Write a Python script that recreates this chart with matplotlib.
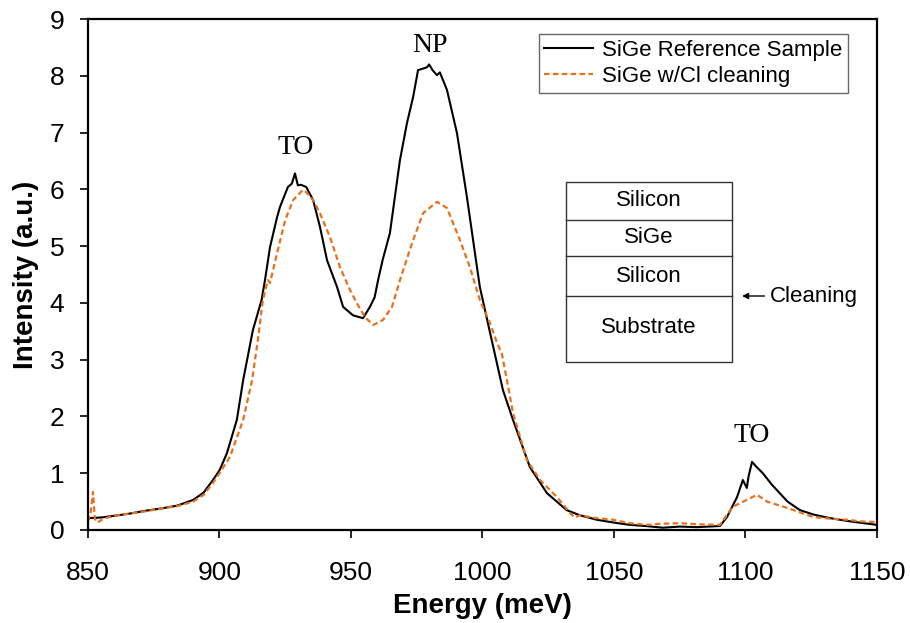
import matplotlib
matplotlib.use("Agg")
import matplotlib.pyplot as plt
from matplotlib.patches import Rectangle

# photoluminescence spectra, energy in meV, intensity in a.u.
ref_energy = [850, 851, 855, 860, 866, 872, 878, 884, 890, 894, 897.5, 900,
              902.8, 906.6, 909, 912.7, 916, 917.3, 919.2, 921.9, 923, 926,
              927.5, 928.7, 929.8, 931, 933, 935.6, 938.2, 940.9, 944.7, 947,
              950.8, 954.6, 957.2, 959, 960.3, 962, 964.8, 968.6, 971.3, 973.6,
              975.5, 977, 978.9, 979.7, 981, 982.7, 983.8, 986.5, 990.3, 994.1,
              997.9, 999, 1002.9, 1007.8, 1011.6, 1018, 1024.5, 1032, 1037,
              1043.5, 1050, 1056, 1062, 1068.6, 1075, 1081.6, 1090.3, 1093,
              1096.8, 1099, 1100.5, 1101.2, 1102.5, 1104, 1106.6, 1110, 1113,
              1116, 1120.7, 1126, 1132, 1140, 1150]
ref_intensity = [0.2, 0.21, 0.22, 0.25, 0.29, 0.34, 0.38, 0.43, 0.53, 0.66,
                 0.88, 1.05, 1.35, 1.94, 2.64, 3.52, 4.05, 4.4, 4.98, 5.51,
                 5.69, 6.04, 6.1, 6.28, 6.07, 6.08, 6.04, 5.81, 5.34, 4.75,
                 4.28, 3.93, 3.78, 3.73, 3.93, 4.1, 4.4, 4.75, 5.23, 6.51, 7.17,
                 7.62, 8.1, 8.12, 8.15, 8.2, 8.1, 8.01, 8.06, 7.75, 6.99, 5.86,
                 4.63, 4.28, 3.47, 2.46, 1.94, 1.11, 0.65, 0.35, 0.26, 0.18,
                 0.13, 0.09, 0.07, 0.04, 0.06, 0.05, 0.07, 0.23, 0.58, 0.88,
                 0.74, 0.95, 1.2, 1.12, 1.0, 0.8, 0.65, 0.5, 0.35, 0.27, 0.21,
                 0.15, 0.09]

cl_energy = [850, 851, 851.9, 852.6, 853.5, 856, 860, 866, 872, 878, 884,
             890, 894, 897.5, 900, 904, 909, 912.4, 914.6, 916.5, 918.4,
             919.2, 921.9, 925, 928, 931.7, 933, 935.6, 938.2, 942, 945.8,
             949.6, 952.3, 955.3, 958.4, 962.2, 965.6, 968.6, 973.2, 977.4,
             982.7, 986.5, 991.4, 995.2, 999, 1002.9, 1005.5, 1007.4, 1008.2,
             1009.3, 1011.6, 1016.9, 1021.9, 1028.3, 1033.3, 1035, 1037,
             1043, 1049.6, 1056, 1062.5, 1068, 1075, 1082, 1090.3, 1095.2,
             1100.5, 1104.4, 1108.2, 1115.8, 1125.7, 1132, 1138.6, 1144, 1150]
cl_intensity = [0.15, 0.3, 0.67, 0.2, 0.13, 0.2, 0.25, 0.29, 0.33, 0.38, 0.42,
                0.5, 0.62, 0.83, 1.0, 1.29, 1.94, 2.64, 3.35, 4.05, 4.4, 4.35,
                4.88, 5.46, 5.81, 5.99, 5.95, 5.81, 5.58, 5.16, 4.63, 4.23,
                3.99, 3.75, 3.61, 3.7, 3.93, 4.4, 5.05, 5.58, 5.78, 5.67, 5.11,
                4.63, 4.05, 3.64, 3.3, 3.1, 2.9, 2.64, 2.06, 1.23, 0.88, 0.58,
                0.3, 0.22, 0.26, 0.21, 0.18, 0.12, 0.09, 0.11, 0.12, 0.1, 0.09,
                0.41, 0.53, 0.62, 0.5, 0.39, 0.23, 0.2, 0.18, 0.15, 0.14]

series_labels = ["SiGe Reference Sample", "SiGe w/Cl cleaning"]
peak_labels = ["TO", "NP", "TO"]
peak_pos = [(929, 6.74), (980, 8.54), (1102.5, 1.67)]
layers = ["Silicon", "SiGe", "Silicon", "Substrate"]

orange = "#E8701A"

plt.rcParams["font.family"] = ["Liberation Sans", "DejaVu Sans"]

fig = plt.figure(figsize=(9.1, 6.23), dpi=100)
ax = fig.add_axes([0.0967, 0.1493, 0.867, 0.8202])

ax.plot(ref_energy, ref_intensity, color="black", lw=1.5, label=series_labels[0])
ax.plot(cl_energy, cl_intensity, color=orange, lw=1.6, linestyle=(0, (2.5, 1.5)),
        label=series_labels[1])

ax.set_xlim(850, 1150)
ax.set_ylim(0, 9)
ax.set_xticks(range(850, 1151, 50))
ax.set_yticks(range(0, 10))
ax.tick_params(labelsize=19, length=6, width=1.2, direction="out")
ax.tick_params(axis="x", pad=16)
ax.tick_params(axis="y", pad=11)
for sp in ax.spines.values():
    sp.set_linewidth(1.6)

ax.set_xlabel("Energy (meV)", fontsize=20, fontweight="bold", labelpad=6)
ax.set_ylabel("Intensity (a.u.)", fontsize=20, fontweight="bold", labelpad=8)

for lab, (px, py) in zip(peak_labels, peak_pos):
    ax.text(px, py, lab, fontsize=20, family="Liberation Serif",
            ha="center", va="center")

leg = ax.legend(loc="upper right", bbox_to_anchor=(848 / 910, 1 - 34 / 623),
                bbox_transform=fig.transFigure, fontsize=16, frameon=True,
                fancybox=False, handlelength=2.2, handletextpad=0.4,
                borderpad=0.25, labelspacing=0.25, borderaxespad=0)
leg.get_frame().set_edgecolor("#444444")
leg.get_frame().set_linewidth(1.0)

# layer stack sketch
x0, x1 = 0.6058, 0.8162
edges = [0.681, 0.6067, 0.5362, 0.4579, 0.3288]
ax.add_patch(Rectangle((x0, edges[-1]), x1 - x0, edges[0] - edges[-1],
                       transform=ax.transAxes, fill=False,
                       edgecolor="#333333", lw=1.0))
for yy in edges[1:-1]:
    ax.plot([x0, x1], [yy, yy], transform=ax.transAxes, color="#333333", lw=1.0)
centers = [(edges[0] + edges[1]) / 2, (edges[1] + edges[2]) / 2,
           (edges[2] + edges[3]) / 2, 0.397]
for name, cy in zip(layers, centers):
    ax.text((x0 + x1) / 2, cy, name, transform=ax.transAxes, fontsize=16,
            ha="center", va="center")

ax.annotate("Cleaning", xy=(0.829, edges[3]), xytext=(0.8644, edges[3]),
            xycoords="axes fraction", textcoords="axes fraction",
            fontsize=16, ha="left", va="center",
            arrowprops=dict(arrowstyle="-|>", color="black", lw=1.0,
                            shrinkA=2, shrinkB=0, mutation_scale=9))

fig.savefig("out.png", dpi=100)
